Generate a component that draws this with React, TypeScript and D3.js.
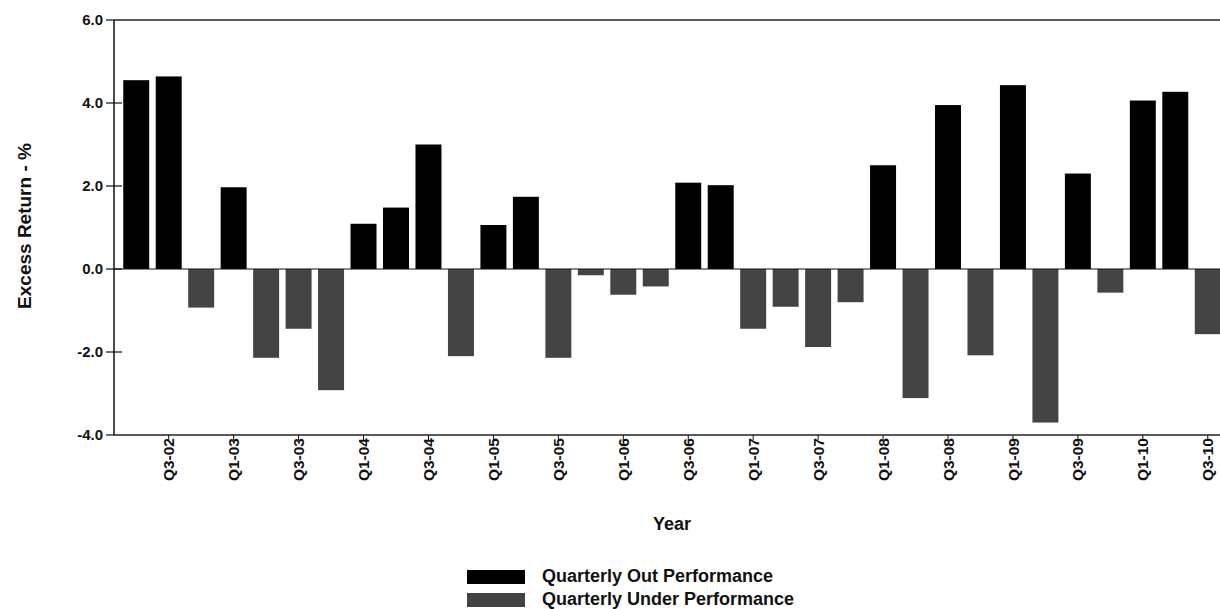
import React from 'react';
import * as d3 from 'd3';

const quarters = [
  'Q2-02', 'Q3-02', 'Q4-02',
  'Q1-03', 'Q2-03', 'Q3-03', 'Q4-03',
  'Q1-04', 'Q2-04', 'Q3-04', 'Q4-04',
  'Q1-05', 'Q2-05', 'Q3-05', 'Q4-05',
  'Q1-06', 'Q2-06', 'Q3-06', 'Q4-06',
  'Q1-07', 'Q2-07', 'Q3-07', 'Q4-07',
  'Q1-08', 'Q2-08', 'Q3-08', 'Q4-08',
  'Q1-09', 'Q2-09', 'Q3-09', 'Q4-09',
  'Q1-10', 'Q2-10', 'Q3-10',
];

const excessReturn = [
  4.55, 4.64, -0.93,
  1.97, -2.14, -1.44, -2.92,
  1.09, 1.48, 3.0, -2.1,
  1.06, 1.74, -2.14, -0.15,
  -0.62, -0.42, 2.08, 2.02,
  -1.44, -0.91, -1.88, -0.8,
  2.5, -3.11, 3.95, -2.08,
  4.43, -3.7, 2.3, -0.57,
  4.06, 4.27, -1.57,
];

const labelledQuarters = [
  'Q3-02', 'Q1-03', 'Q3-03', 'Q1-04', 'Q3-04', 'Q1-05', 'Q3-05', 'Q1-06', 'Q3-06',
  'Q1-07', 'Q3-07', 'Q1-08', 'Q3-08', 'Q1-09', 'Q3-09', 'Q1-10', 'Q3-10',
];

const yTicks = [6, 4, 2, 0, -2, -4];

const legendItems = ['Quarterly Out Performance', 'Quarterly Under Performance'];

const OUT_COLOR = '#000000';
const UNDER_COLOR = '#444444';
const FONT = 'Arial, "Liberation Sans", sans-serif';

export default function App() {
  const width = 1220;
  const height = 609;
  const left = 114;
  const right = 1221;
  const top = 20;
  const bottom = 435;

  const x = d3.scaleBand<string>()
    .domain(quarters)
    .range([120, 1224])
    .paddingInner(0.2)
    .paddingOuter(0.1);

  const y = d3.scaleLinear().domain([-4, 6]).range([bottom, top]);

  const data = quarters.map((q, i) => ({ q, v: excessReturn[i] }));

  return (
    <svg
      width={width}
      height={height}
      style={{ position: 'absolute', left: 0, top: 0, background: '#fff' }}
      fontFamily={FONT}
    >
      <rect x={0} y={0} width={width} height={height} fill="#fff" />

      {/* bars */}
      {data.map(d => (
        <rect
          key={d.q}
          x={x(d.q)}
          y={y(Math.max(0, d.v))}
          width={x.bandwidth()}
          height={Math.abs(y(d.v) - y(0))}
          fill={d.v >= 0 ? OUT_COLOR : UNDER_COLOR}
        />
      ))}

      {/* frame */}
      <line x1={left} x2={right} y1={top} y2={top} stroke="#222" strokeWidth={1.5} />
      <line x1={left} x2={right} y1={bottom} y2={bottom} stroke="#222" strokeWidth={1.5} />
      <line x1={left} x2={left} y1={top} y2={bottom} stroke="#111" strokeWidth={1.5} />
      <line x1={left} x2={right} y1={y(0)} y2={y(0)} stroke="#111" strokeWidth={1.2} />

      {/* y axis */}
      {yTicks.map(t => (
        <g key={t} transform={`translate(0,${y(t)})`}>
          <line x1={106} x2={t === 6 || t === -4 ? left : 122} stroke="#111" strokeWidth={1.2} />
          <text x={103} dy="0.35em" textAnchor="end" fontSize={15} fontWeight="bold" fill="#111">
            {t.toFixed(1)}
          </text>
        </g>
      ))}
      <text
        transform={`translate(31,${226}) rotate(-90)`}
        textAnchor="middle"
        fontSize={19}
        fontWeight="bold"
        fill="#111"
      >
        Excess Return - %
      </text>

      {/* x axis */}
      {labelledQuarters.map(q => {
        const cx = (x(q) ?? 0) + x.bandwidth() / 2;
        return (
          <g key={q}>
            <line x1={cx} x2={cx} y1={bottom} y2={bottom + 5} stroke="#111" strokeWidth={1} />
            <text
              transform={`translate(${cx},${438}) rotate(-90)`}
              textAnchor="end"
              dy="0.36em"
              fontSize={15.5}
              fontWeight="bold"
              fill="#111"
            >
              {q}
            </text>
          </g>
        );
      })}
      <text x={672} y={530} textAnchor="middle" fontSize={18} fontWeight="bold" fill="#111">
        Year
      </text>

      {/* legend */}
      {legendItems.map((label, i) => (
        <g key={label} transform={`translate(467,${570 + i * 23})`}>
          <rect x={0} y={0} width={58} height={14} fill={i === 0 ? OUT_COLOR : UNDER_COLOR} />
          <text x={75} y={12} fontSize={18} fontWeight="bold" fill="#111">
            {label}
          </text>
        </g>
      ))}
    </svg>
  );
}
